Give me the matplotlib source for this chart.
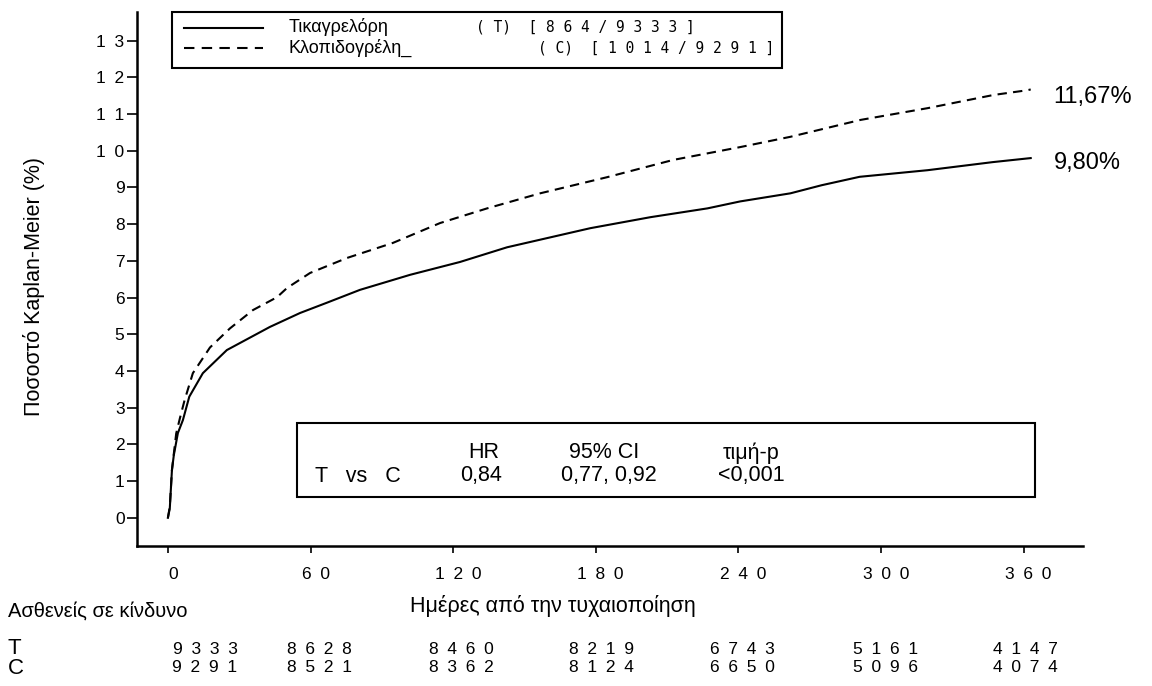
import matplotlib
matplotlib.use("Agg")
import matplotlib.pyplot as plt
import matplotlib.transforms as mtransforms
from matplotlib.patches import Rectangle
from matplotlib.lines import Line2D

plt.rcParams['font.family'] = ['Liberation Sans', 'DejaVu Sans']
MONO = 'DejaVu Sans Mono'
GAP = '\u2002'  # en space between digits, like the wide-spaced numbers of the original

# Kaplan-Meier curves (days, %)
t_days = [0, 0.8, 1.7, 2.5, 4.2, 6.3, 9, 14.7, 24.8, 42.9, 55.6, 66.9, 80.8, 101.9, 114.5,
          122.9, 142.7, 177.7, 203, 227, 240.8, 261.9, 275, 291, 319.6, 347, 363]
t_vals = [0, 0.26, 1.3, 1.71, 2.31, 2.66, 3.3, 3.94, 4.57, 5.2, 5.58, 5.86, 6.21, 6.62, 6.83,
          6.97, 7.37, 7.89, 8.19, 8.43, 8.62, 8.84, 9.06, 9.29, 9.47, 9.69, 9.80]
c_days = [0, 0.8, 1.7, 2.5, 3.5, 5, 7, 10.5, 17.7, 26.1, 35.8, 45.9, 50.1, 59.8, 75.4, 94.7,
          114.5, 134.3, 156.6, 184.8, 212.6, 240.8, 261.9, 291.4, 319.6, 347.4, 361.7, 363]
c_vals = [0, 0.3, 1.3, 1.75, 2.3, 2.7, 3.2, 3.94, 4.64, 5.16, 5.66, 6.01, 6.26, 6.67, 7.08, 7.49,
          8.03, 8.43, 8.84, 9.28, 9.75, 10.1, 10.38, 10.84, 11.16, 11.52, 11.65, 11.67]

x_ticks = [0, 60, 120, 180, 240, 300, 360]
y_ticks = list(range(0, 14))
risk_t = [9333, 8628, 8460, 8219, 6743, 5161, 4147]
risk_c = [9291, 8521, 8362, 8124, 6650, 5096, 4074]
risk_x = [15.6, 63.6, 123.4, 182.7, 242, 302, 361]

W, H = 1152, 686
fig = plt.figure(figsize=(W / 100, H / 100), dpi=100)


def px(x, y):
    return x / W, 1 - y / H


def spaced(v):
    return GAP.join(str(v))


ax = fig.add_axes([137 / W, 1 - 545.7 / H, (1083 - 137) / W, (545.7 - 12) / H])
ax.plot(t_days, t_vals, color='black', lw=1.5)
ax.plot(c_days, c_vals, color='black', lw=1.5, linestyle=(0, (4.5, 3)))

ax.set_xlim(-13, 385)
ax.set_ylim(-0.76, 13.78)
for s in ['top', 'right']:
    ax.spines[s].set_visible(False)
for s in ['left', 'bottom']:
    ax.spines[s].set_linewidth(1.8)

ax.set_xticks(x_ticks)
ax.set_xticklabels([spaced(v) for v in x_ticks])
ax.set_yticks(y_ticks)
ax.set_yticklabels([spaced(v) for v in y_ticks])
ax.tick_params(axis='y', length=7, width=1.2, pad=2, labelsize=12.5)
ax.tick_params(axis='x', length=5, width=1.2, pad=10, labelsize=12.5)
shift = mtransforms.ScaledTranslation(5 / 100, 0, fig.dpi_scale_trans)
for lab in ax.get_xticklabels():
    lab.set_transform(lab.get_transform() + shift)

ax.set_ylabel('Ποσοστό Kaplan-Meier (%)', fontsize=15.5)
ax.yaxis.set_label_coords(-0.097, 0.485)

# end labels
ax.text(372.6, 11.46, '11,67%', fontsize=17, va='center', ha='left')
ax.text(372.6, 9.66, '9,80%', fontsize=17, va='center', ha='left')

# legend box
fig.patches.append(Rectangle(px(172, 68), (782 - 172) / W, (68 - 12) / H, transform=fig.transFigure,
                             fill=False, edgecolor='black', lw=1.5))
fig.lines.append(Line2D([184 / W, 263 / W], [px(0, 28)[1]] * 2, transform=fig.transFigure,
                        color='black', lw=1.5))
fig.lines.append(Line2D([184 / W, 263 / W], [px(0, 48)[1]] * 2, transform=fig.transFigure,
                        color='black', lw=1.5, linestyle=(0, (5, 3.5))))
fig.text(*px(289, 27), 'Τικαγρελόρη', fontsize=13, va='center')
fig.text(*px(289, 48), 'Κλοπιδογρέλη_', fontsize=13, va='center')
fig.text(*px(476, 27), '( T)  [ 8 6 4 / 9 3 3 3 ]', fontsize=10.5, va='center', family=MONO)
fig.text(*px(538, 48), '( C)  [ 1 0 1 4 / 9 2 9 1 ]', fontsize=10.5, va='center', family=MONO)

# stats box
fig.patches.append(Rectangle(px(297, 497), (1035 - 297) / W, (497 - 423) / H, transform=fig.transFigure,
                             fill=False, edgecolor='black', lw=1.5))
for x, s in [(484, 'HR'), (604, '95% CI'), (751, 'τιμή-p')]:
    fig.text(*px(x, 453), s, fontsize=15.5, ha='center', va='center')
fig.text(*px(315, 476), 'T   vs   C', fontsize=15.5, ha='left', va='center')
for x, s in [(481, '0,84'), (609, '0,77, 0,92'), (751, '<0,001')]:
    fig.text(*px(x, 476), s, fontsize=15.5, ha='center', va='center')

# x label and at-risk table
fig.text(*px(553, 606), 'Ημέρες από την τυχαιοποίηση', fontsize=15.5, ha='center', va='center')
fig.text(*px(8, 611), 'Ασθενείς σε κίνδυνο', fontsize=14.5, ha='left', va='center')
fig.text(*px(8, 649), 'T', fontsize=16, ha='left', va='center')
fig.text(*px(8, 668), 'C', fontsize=16, ha='left', va='center')
for x, a, b in zip(risk_x, risk_t, risk_c):
    fx = (168 + x * 2.375) / W
    fig.text(fx, px(0, 649)[1], spaced(a), fontsize=12.5, ha='center', va='center')
    fig.text(fx, px(0, 668)[1], spaced(b), fontsize=12.5, ha='center', va='center')

fig.savefig('out.png', dpi=100)
